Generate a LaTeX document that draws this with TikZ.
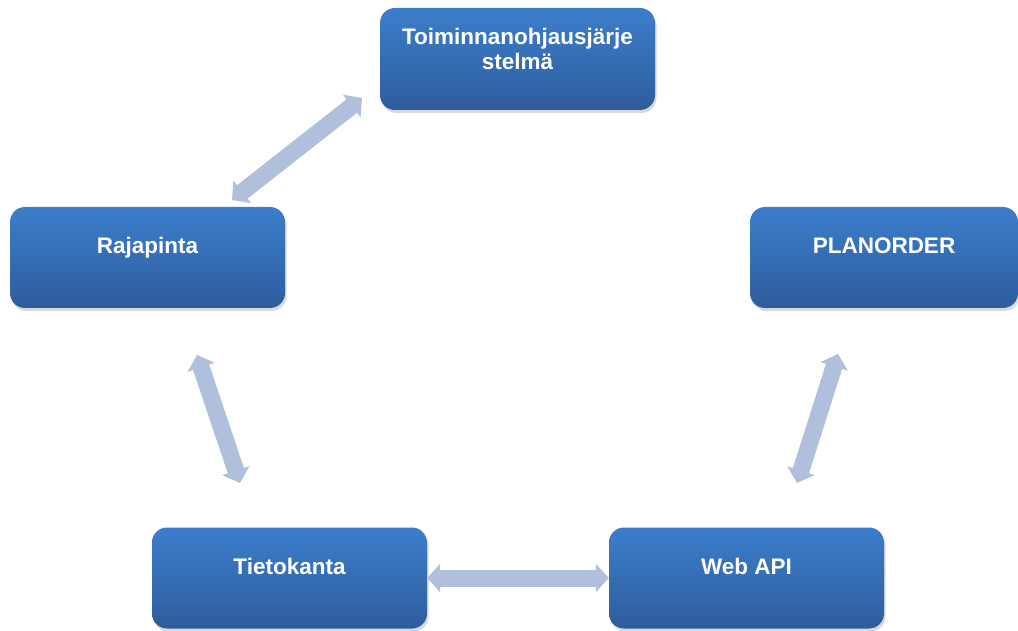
\documentclass[tikz,border=0pt]{standalone}
\usepackage{fontspec}
\setmainfont{Liberation Sans}
\usetikzlibrary{arrows.meta,shadows,calc}

\definecolor{boxtop}{RGB}{60,126,204}
\definecolor{boxbottom}{RGB}{46,92,156}
\definecolor{linkblue}{RGB}{176,192,220}

\tikzset{
  sysbox/.style={rectangle,rounded corners=15pt,minimum width=275pt,
    inner xsep=4pt,inner ysep=0pt,text height=47pt,text depth=54pt,
    top color=boxtop,bottom color=boxbottom,draw=none,
    drop shadow={opacity=0.3,shadow xshift=1.5pt,shadow yshift=-3pt},
    text=white,font=\fontsize{22.5}{25}\selectfont\bfseries,align=center},
  link/.style={draw=linkblue,line width=17pt,
    {Triangle[width=28pt,length=13pt]}-{Triangle[width=28pt,length=13pt]}}
}

\begin{document}
\begin{tikzpicture}[x=1pt,y=-1pt]
  \useasboundingbox (0,0) rectangle (1018,631);

  \node[sysbox,text height=62pt,text depth=40pt] (toim) at (517.5,59) {Toiminnanohjausjärje\\stelmä};
  \node[sysbox] (raja) at (147.5,257.5) {Rajapinta};
  \node[sysbox,minimum width=268pt] (plan) at (884,257.5) {PLANORDER};
  \node[sysbox] (tieto) at (289.5,578) {Tietokanta};
  \node[sysbox] (web) at (746.5,578) {Web API};

  % ends of the links
  \coordinate (toim-end) at (362,98);
  \coordinate (raja-up) at (232,200);
  \coordinate (raja-down) at (197,355);
  \coordinate (tieto-up) at (240,483);
  \coordinate (plan-down) at (838,354);
  \coordinate (web-up) at (797,483);

  \draw[link] (raja-up) -- (toim-end);
  \draw[link] (raja-down) -- (tieto-up);
  \draw[link] (tieto.east) -- (web.west);
  \draw[link] (web-up) -- (plan-down);
\end{tikzpicture}
\end{document}
